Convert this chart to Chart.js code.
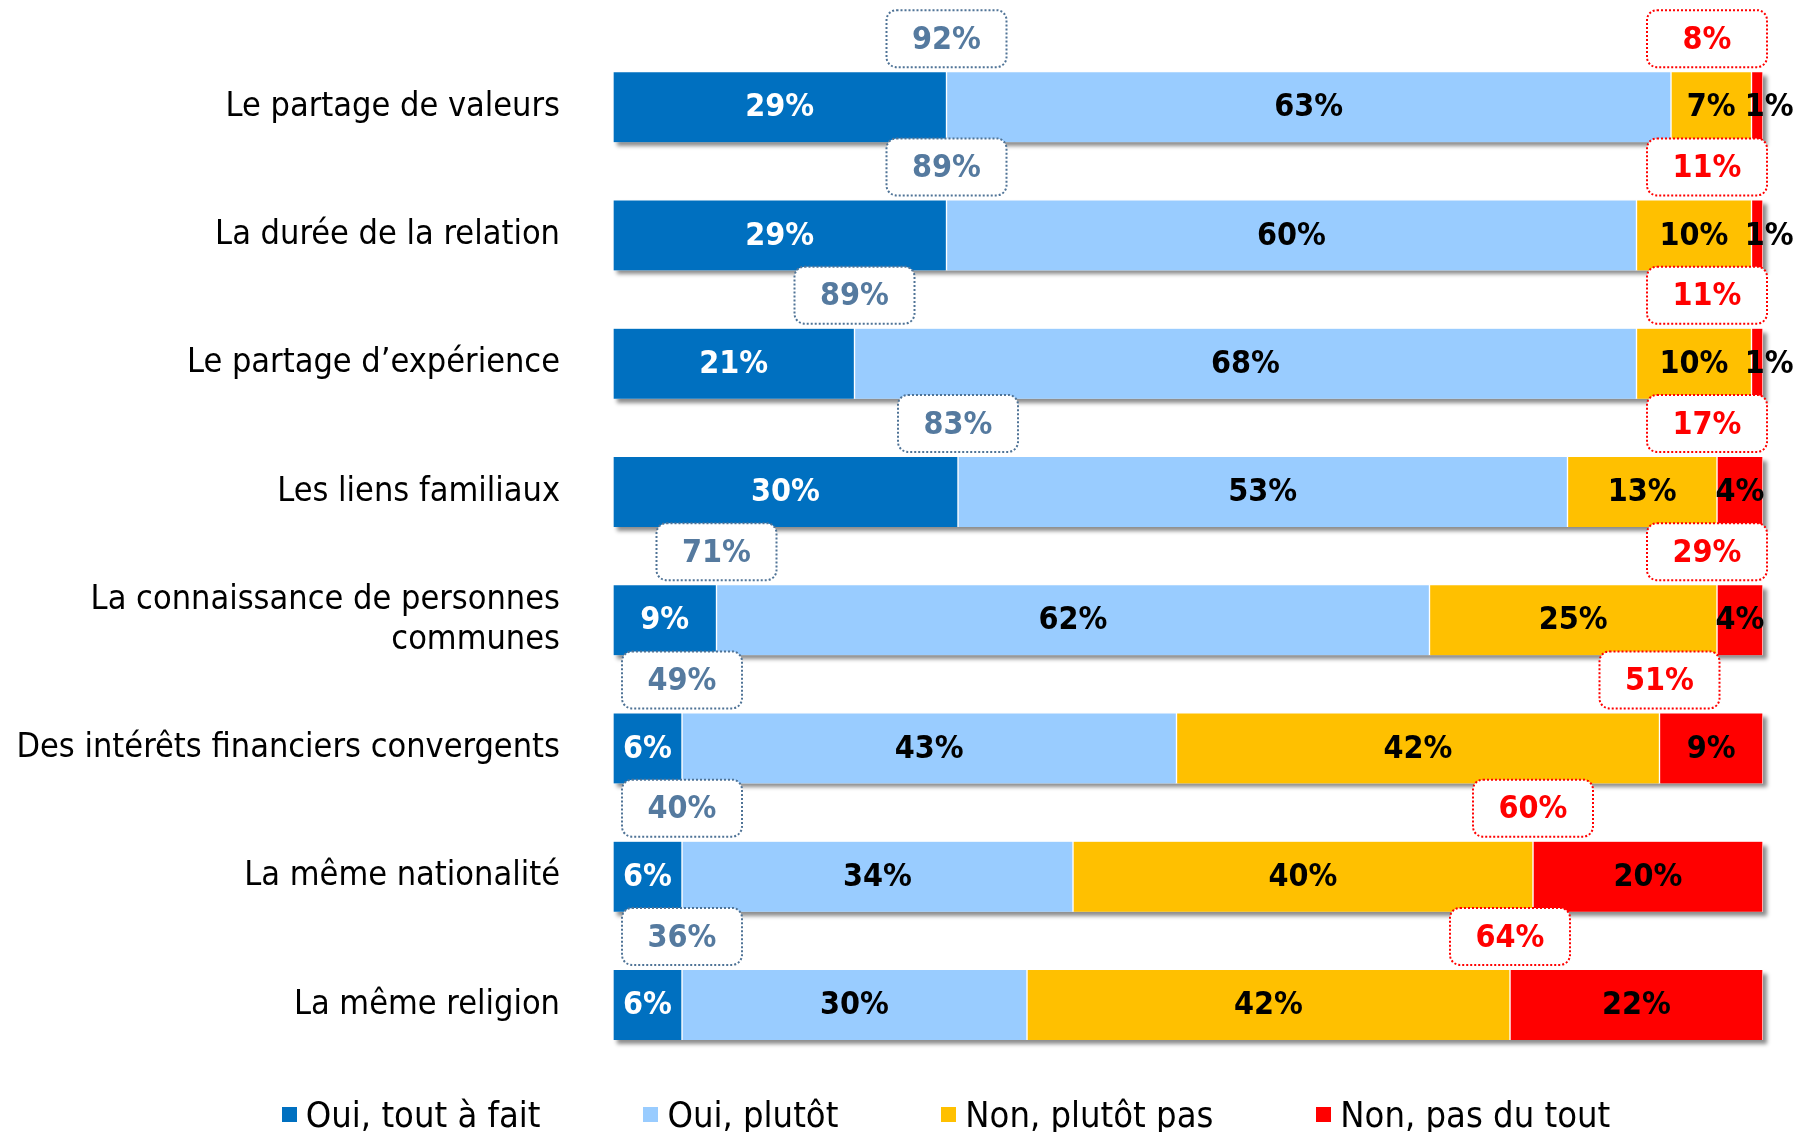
<!DOCTYPE html>
<html lang="fr">
<head>
  <meta charset="UTF-8">
  <title>Critères de confiance</title>
  <script src="https://cdn.jsdelivr.net/npm/chart.js"></script>
  <style>
    body { margin: 0; background: #fff; }
    .wrap { position: relative; width: 1797px; height: 1132px; }
    #legend {
      position: absolute; left: 0; top: 1092px; width: 1797px; height: 44px;
      box-sizing: border-box; padding-left: 95px;
      display: flex; justify-content: center; align-items: center; gap: 103px;
      font: 36px 'DejaVu Sans Condensed', 'DejaVu Sans', sans-serif; color: #000;
    }
    #legend .item { display: flex; align-items: center; white-space: nowrap; }
    #legend .box { width: 15px; height: 15px; margin-right: 9px; }
  </style>
</head>
<body>
  <div class="wrap">
    <canvas id="chart"></canvas>
    <div id="legend"></div>
  </div>

  <script>
    const categories = [
      'Le partage de valeurs',
      'La durée de la relation',
      'Le partage d\u2019expérience',
      'Les liens familiaux',
      ['La connaissance de personnes', 'communes'],
      'Des intérêts financiers convergents',
      'La même nationalité',
      'La même religion'
    ];
    const seriesNames = ['Oui, tout à fait', 'Oui, plutôt', 'Non, plutôt pas', 'Non, pas du tout'];
    const seriesColors = ['#0070C0', '#99CCFF', '#FFC000', '#FF0000'];

    const ouiToutAFait = [29, 29, 21, 30, 9, 6, 6, 6];
    const ouiPlutot    = [63, 60, 68, 53, 62, 43, 34, 30];
    const nonPlutotPas = [7, 10, 10, 13, 25, 42, 40, 42];
    const nonPasDuTout = [1, 1, 1, 4, 4, 9, 20, 22];

    const totalOui = [92, 89, 89, 83, 71, 49, 40, 36];
    const totalNon = [8, 11, 11, 17, 29, 51, 60, 64];

    const FONT = "'DejaVu Sans Condensed', 'DejaVu Sans', sans-serif";
    const BAR = 70;

    // shadow under each bar, value labels and the dotted total boxes
    const barDecor = {
      id: 'barDecor',
      beforeDatasetsDraw(chart) {
        const { ctx, scales: { x, y } } = chart;
        const x0 = x.getPixelForValue(0), x1 = x.getPixelForValue(100);
        ctx.save();
        ctx.fillStyle = '#fff';
        ctx.shadowColor = 'rgba(0,0,0,0.45)';
        ctx.shadowBlur = 4;
        ctx.shadowOffsetX = 4;
        ctx.shadowOffsetY = 4;
        categories.forEach((c, i) => {
          const yc = y.getPixelForValue(i);
          ctx.fillRect(x0, yc - BAR / 2, x1 - x0, BAR);
        });
        ctx.restore();
      },
      afterDatasetsDraw(chart) {
        const { ctx, scales: { x, y } } = chart;
        ctx.save();
        ctx.font = 'bold 32px ' + FONT;
        ctx.textAlign = 'center';
        ctx.textBaseline = 'middle';
        chart.data.datasets.forEach((ds, di) => {
          const meta = chart.getDatasetMeta(di);
          meta.data.forEach((bar, i) => {
            const p = bar.getCenterPoint();
            // tiny segments: label spills out to the right
            const shift = Math.abs(bar.x - bar.base) < 30 ? 12 : 0;
            ctx.fillStyle = di === 0 ? '#fff' : '#000';
            ctx.fillText(ds.data[i] + '%', p.x + shift, p.y + 1);
          });
        });

        const left = x.getPixelForValue(0), right = x.getPixelForValue(100);
        const bw = 120, bh = 57;
        const drawBox = (cx, cy, txt, stroke, color) => {
          ctx.beginPath();
          ctx.roundRect(cx - bw / 2, cy - bh / 2, bw, bh, 10);
          ctx.fillStyle = '#fff';
          ctx.fill();
          ctx.setLineDash([2, 2]);
          ctx.lineWidth = 2;
          ctx.strokeStyle = stroke;
          ctx.stroke();
          ctx.setLineDash([]);
          ctx.fillStyle = color;
          ctx.fillText(txt, cx, cy + 2);
        };
        categories.forEach((c, i) => {
          const cy = y.getPixelForValue(i) - BAR / 2 - 5 - bh / 2;
          const bx = Math.max(x.getPixelForValue(ouiToutAFait[i]), left + bw / 2 + 6);
          drawBox(bx, cy, totalOui[i] + '%', '#4F7396', '#557A9F');
          const rx = Math.min(x.getPixelForValue(100 - nonPasDuTout[i]), right + 4 - bw / 2);
          drawBox(rx, cy, totalNon[i] + '%', '#FF0000', '#FF0000');
        });
        ctx.restore();
      }
    };

    const seriesData = [ouiToutAFait, ouiPlutot, nonPlutotPas, nonPasDuTout];

    const chart = new Chart(document.getElementById('chart'), {
      type: 'bar',
      data: {
        labels: categories,
        datasets: seriesNames.map((name, k) => ({
          label: name,
          data: seriesData[k],
          backgroundColor: seriesColors[k],
          borderColor: '#fff',
          borderWidth: { left: 1, right: 1, top: 0, bottom: 0 },
          borderSkipped: false,
          barThickness: BAR
        }))
      },
      options: {
        indexAxis: 'y',
        responsive: true,
        maintainAspectRatio: false,
        animation: false,
        layout: { padding: { top: 43, bottom: 63, right: 34, left: 0 } },
        plugins: {
          legend: { display: false },
          tooltip: { enabled: false }
        },
        scales: {
          x: { stacked: true, min: 0, max: 100, display: false },
          y: {
            stacked: true,
            grid: { display: false, drawTicks: false },
            border: { display: false },
            ticks: {
              padding: 53,
              color: '#000',
              font: { family: FONT, size: 34 }
            },
            afterFit(scale) {
              scale.width = 613;
              scale.paddingTop = 0;
              scale.paddingBottom = 0;
            }
          }
        }
      },
      plugins: [barDecor]
    });

    // legend
    const legend = document.getElementById('legend');
    seriesNames.forEach((name, k) => {
      const item = document.createElement('div');
      item.className = 'item';
      item.innerHTML = `<span class="box" style="background:${seriesColors[k]}"></span>${name}`;
      legend.appendChild(item);
    });
  </script>
</body>
</html>
